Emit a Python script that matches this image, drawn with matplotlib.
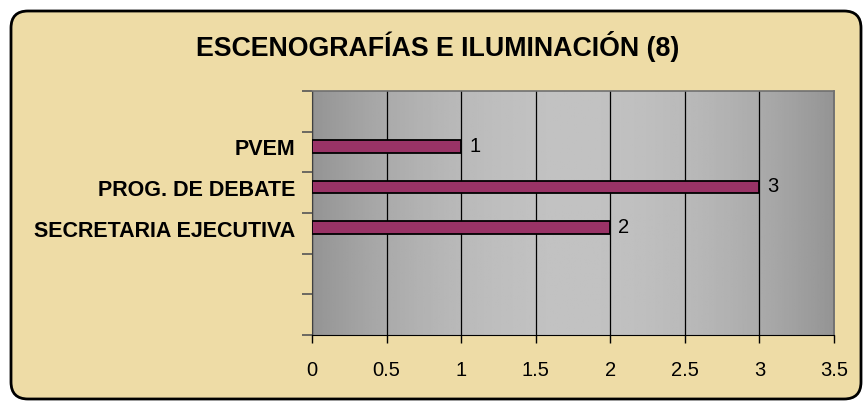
import numpy as np
import matplotlib.pyplot as plt
from matplotlib.patches import FancyBboxPatch

# Données du graphique (de bas en haut, cases vides incluses)
categories = ['', '', 'SECRETARIA EJECUTIVA', 'PROG. DE DEBATE', 'PVEM', '']
valeurs = [None, None, 2, 3, 1, None]
titre = 'ESCENOGRAFÍAS E ILUMINACIÓN (8)'
graduations_x = [0, 0.5, 1, 1.5, 2, 2.5, 3, 3.5]

plt.rcParams['font.family'] = ['Liberation Sans', 'DejaVu Sans']

W, H = 865, 402
fig = plt.figure(figsize=(W / 100, H / 100), dpi=100)
fig.patch.set_facecolor('white')

# Cadre arrondi couleur parchemin
cadre = FancyBboxPatch((11 / 100, 2 / 100), 850 / 100, 388 / 100,
                       boxstyle='round,pad=0,rounding_size=0.17',
                       transform=fig.dpi_scale_trans,
                       facecolor='#EEDCA6', edgecolor='black', linewidth=2,
                       zorder=-10)
fig.patches.append(cadre)

ax = fig.add_axes([312 / W, 1 - 336 / H, (834 - 312) / W, (336 - 92) / H])
ax.set_zorder(5)

# Fond en dégradé gris (foncé aux bords, clair au centre)
t = np.linspace(-1, 1, 300)
degrade = 0.58 + 0.18 * (1 - t ** 2)
ax.imshow(degrade[np.newaxis, :], cmap='gray', vmin=0, vmax=1, aspect='auto',
          extent=[0, 3.5, 0, len(categories)], zorder=0)

# Barres
ypos = [i + 0.5 + 0.14 for i in range(len(categories))]
for y, v in zip(ypos, valeurs):
    if v is None:
        continue
    ax.barh(y, v, height=0.31, color='#993366', edgecolor='black',
            linewidth=1.3, zorder=3)
    ax.text(v + 0.055, y + 0.03, str(v), va='center', ha='left',
            fontsize=14.5, color='black', zorder=4)

ax.set_xlim(0, 3.5)
ax.set_ylim(0, len(categories))

# Lignes de grille verticales
ax.set_xticks(graduations_x)
ax.set_xticklabels([f'{g:g}' for g in graduations_x], fontsize=14.5)
ax.xaxis.grid(True, color='black', linewidth=0.9)
for ligne in ax.get_xgridlines():
    ligne.set_zorder(1)
ax.tick_params(axis='x', length=6, width=1, color='black', pad=12)

# Axe Y : graduations aux limites des cases, étiquettes sur les barres
ax.set_yticks(range(len(categories) + 1), minor=True)
ax.set_yticks([y for y, c in zip(ypos, categories) if c])
ax.set_yticklabels([c for c in categories if c], fontsize=15.5, fontweight='bold')
ax.tick_params(axis='y', which='major', length=0, pad=12)
ax.tick_params(axis='y', which='minor', length=7, width=1.2, color='#555555')

for cote in ['top', 'right']:
    ax.spines[cote].set_color('#707070')
    ax.spines[cote].set_linewidth(1.2)
ax.spines['left'].set_color('#404040')
ax.spines['bottom'].set_color('black')

fig.text(437.5 / W, 1 - 47 / H, titre, ha='center', va='center',
         fontsize=19.3, fontweight='bold')

fig.savefig('out.png', dpi=100)
